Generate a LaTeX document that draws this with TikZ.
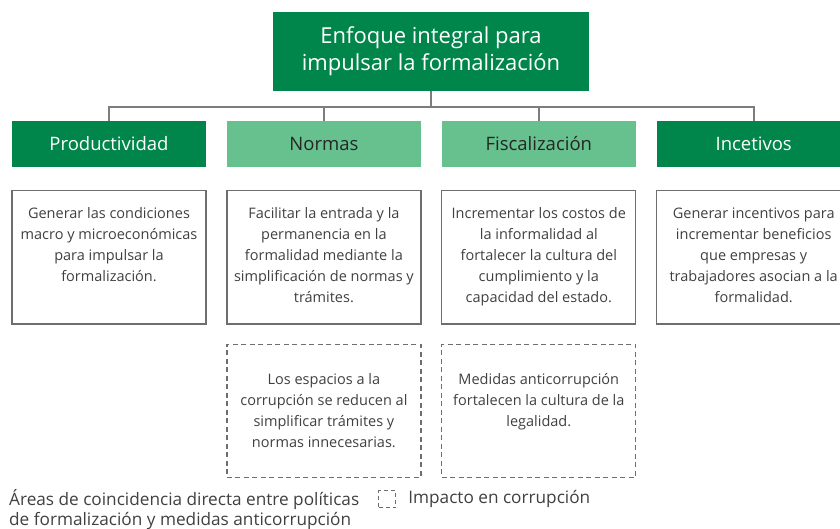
\documentclass[tikz,border=0pt]{standalone}
\usepackage{fontspec}
\setmainfont{Open Sans}
\usepackage{tikz}
\usetikzlibrary{positioning, calc}
\definecolor{darkgreen}{HTML}{00864A}
\definecolor{lightgreen}{HTML}{66C18E}
\definecolor{framegray}{HTML}{6E6E6E}
\definecolor{bodygray}{HTML}{404040}
\tikzstyle{titlebox}=[rectangle,fill=darkgreen,text=white,minimum width=316pt,
minimum height=79pt,inner sep=0pt,align=center,font=\fontsize{22}{27}\selectfont]
\tikzstyle{headdark}=[rectangle,fill=darkgreen,text=white,minimum width=194pt,
minimum height=46pt,inner sep=0pt,font=\fontsize{18.5}{20}\selectfont]
\tikzstyle{headlight}=[headdark,fill=lightgreen,text=black!85]
\tikzstyle{descbox}=[rectangle,draw=framegray,line width=1.3pt,minimum width=194pt,
minimum height=133pt,inner sep=0pt,text=bodygray]
\tikzstyle{impactbox}=[descbox,dash pattern=on 5pt off 3.5pt]
\tikzstyle{linkline}=[draw=framegray!90,line width=2.2pt]
\tikzstyle{legendtext}=[inner sep=0pt,text=bodygray,align=left,
font=\fontsize{17.2}{20}\selectfont]
\newcommand{\boxtext}[2][28pt]{\parbox[c][133pt][t]{190pt}{\centering
\fontsize{14.5}{21}\selectfont\rule{0pt}{#1}#2\par}}

\begin{document}
\begin{tikzpicture}[x=1pt,y=-1pt,node distance=20.5pt]
    \useasboundingbox (0,0) rectangle (840,529);
    \node[titlebox] (top) at (431,51.5) {Enfoque integral para\\impulsar la formalización};

    \node[headdark] (h1) at (109,144) {Productividad};
    \node[headlight, right=of h1] (h2) {Normas};
    \node[headlight, right=of h2] (h3) {Fiscalización};
    \node[headdark, right=of h3] (h4) {Incetivos};

    \foreach \h in {1,...,4}
        \draw[linkline] (top.south) -- ++(0,16) -| (h\h.north);

    \node[descbox, below=23pt of h1] (d1) {\boxtext{Generar las condiciones\\
        macro y microeconómicas\\ para impulsar la\\ formalización.}};
    \node[descbox, below=23pt of h2] (d2) {\boxtext{Facilitar la entrada y la\\
        permanencia en la\\ formalidad mediante la\\ simplificación de normas y\\ trámites.}};
    \node[descbox, below=23pt of h3] (d3) {\boxtext{Incrementar los costos de\\
        la informalidad al\\ fortalecer la cultura del\\ cumplimiento y la\\ capacidad del estado.}};
    \node[descbox, below=23pt of h4] (d4) {\boxtext{Generar incentivos para\\
        incrementar beneficios\\ que empresas y\\ trabajadores asocian a la\\ formalidad.}};

    \node[impactbox, below=19pt of d2] (c2) {\boxtext[40pt]{Los espacios a la\\
        corrupción se reducen al\\ simplificar trámites y\\ normas innecesarias.}};
    \node[impactbox, below=19pt of d3] (c3) {\boxtext[40pt]{Medidas anticorrupción\\
        fortalecen la cultura de la\\ legalidad.}};

    % legend
    \node[legendtext, anchor=north west] (areas) at (9,489)
        {Áreas de coincidencia directa entre políticas\\de formalización y medidas anticorrupción};
    \node[rectangle,draw=framegray,line width=1.3pt,dash pattern=on 4pt off 3pt,
        minimum size=17pt,inner sep=0pt] (icon) at (387,499) {};
    \node[legendtext, right=12pt of icon] (impact) {Impacto en corrupción};
\end{tikzpicture}
\end{document}
